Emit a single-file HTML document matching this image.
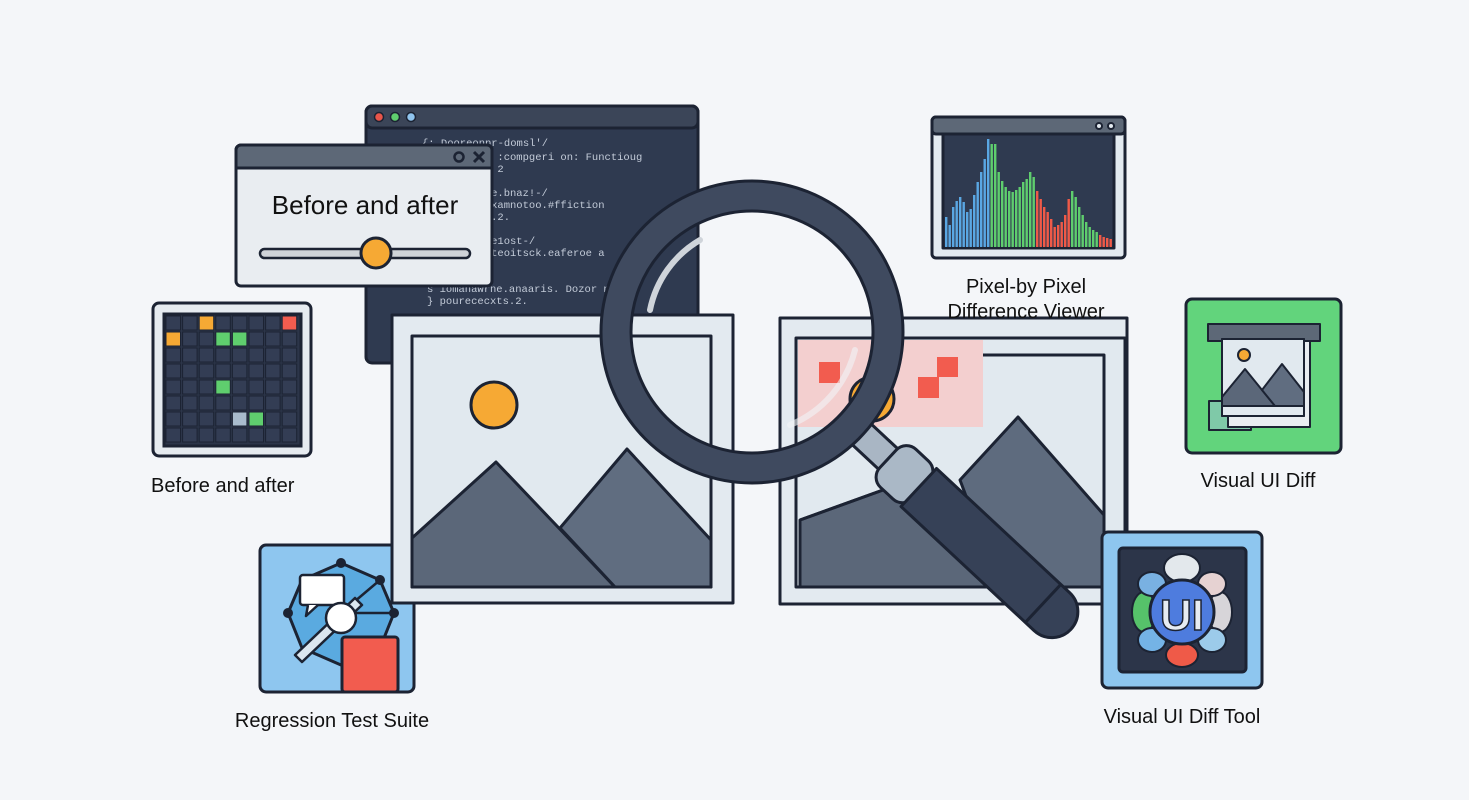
<!DOCTYPE html>
<html><head><meta charset="utf-8"><style>
html,body{margin:0;padding:0;background:#f4f6f9;}
svg{display:block}
text{font-family:"Liberation Sans",sans-serif;}
.code text{font-family:"Liberation Mono",monospace;font-size:10.5px;fill:#c3cbd8;}
</style></head><body>
<svg width="1469" height="800" viewBox="0 0 1469 800" xmlns="http://www.w3.org/2000/svg">
<rect width="1469" height="800" fill="#f4f6f9"/>
<g stroke="#1c2333" stroke-width="3" stroke-linejoin="round">
<rect x="366" y="106" width="332" height="257" rx="6" fill="#2f3a50"/>
<rect x="366" y="106" width="332" height="22" rx="6" fill="#3b4558"/>
<circle cx="379" cy="117" r="4.5" fill="#e8554a" stroke-width="1.5"/>
<circle cx="395" cy="117" r="4.5" fill="#5fce6e" stroke-width="1.5"/>
<circle cx="411" cy="117" r="4.5" fill="#8fc4ee" stroke-width="1.5"/>
</g>
<g class="code">
<text x="422" y="146">{:  Dooreonpr-domsl'/</text>
<text x="447" y="160">ildmage :compgeri on: Functioug</text>
<text x="447" y="172">wrisKao 2</text>
<text x="447" y="196">onner se.bnaz!-/</text>
<text x="447" y="208">elpag.examnotoo.#ffiction</text>
<text x="447" y="220">orerted.2.</text>
<text x="447" y="244">otoe ere1ost-/</text>
<text x="447" y="256">ildmogeteoitsck.eaferoe  a</text>
<text x="447" y="268">wnbaad.</text>
<text x="427" y="292">s  iomanawrne.anaaris. Dozor    n</text>
<text x="427" y="304">}  pourececxts.2.</text>
</g>
<g stroke="#1c2333" stroke-width="3" stroke-linejoin="round">
<rect x="236" y="145" width="256" height="141" rx="5" fill="#e9edf1"/>
<path d="M241 145 H487 a5 5 0 0 1 5 5 V168 H236 V150 a5 5 0 0 1 5 -5z" fill="#5d6877"/>
<circle cx="459" cy="157" r="4.5" fill="none" stroke-width="2.5"/>
<path d="M474 152 L484 162 M484 152 L474 162" stroke-width="3"/>
<rect x="260" y="249" width="210" height="9" rx="4.5" fill="#cfd3d8" stroke-width="2.5"/>
<circle cx="376" cy="253" r="15" fill="#f6a934"/>
</g>
<text x="365" y="214" text-anchor="middle" font-size="26" fill="#111">Before and after</text>
<g stroke="#1c2333" stroke-width="3">
<rect x="153" y="303" width="158" height="153" rx="6" fill="#e6ebf0"/>
<rect x="164" y="314" width="137" height="132" fill="#2c3549"/>
</g>
<g id="grid"></g>
<text x="151" y="492" font-size="20" fill="#111">Before and after</text>
<g stroke="#1c2333" stroke-width="3" stroke-linejoin="round">
<rect x="260" y="545" width="154" height="147" rx="6" fill="#8ec6ef"/>
<polygon points="341,563 380,580 394,613 380,648 341,665 302,648 288,613 302,580" fill="#5aaae0"/>
<circle cx="341" cy="563" r="3.5" fill="#1c2333"/><circle cx="380" cy="580" r="3.5" fill="#1c2333"/>
<circle cx="394" cy="613" r="3.5" fill="#1c2333"/><circle cx="288" cy="613" r="3.5" fill="#1c2333"/>
<path d="M302 580 L341 613 M380 580 L341 613 M341 613 L394 613" stroke-width="2.5"/>
<path d="M295 655 L302 662 L362 605 L355 598z" fill="#dbe6ef" stroke-width="2.5"/>
<rect x="300" y="575" width="44" height="30" rx="3" fill="#fff" stroke-width="2.5"/>
<path d="M308 605 L306 616 L318 605" fill="#fff" stroke-width="2.5"/>
<circle cx="341" cy="618" r="15" fill="#fff" stroke-width="2.5"/>
<rect x="342" y="637" width="56" height="55" rx="3" fill="#f25c4f"/>
</g>
<text x="332" y="727" text-anchor="middle" font-size="20" fill="#111">Regression Test Suite</text>
<g stroke="#1c2333" stroke-width="3" stroke-linejoin="round">
<rect x="392" y="315" width="341" height="288" fill="#e3eaf0"/>
<rect x="412" y="336" width="299" height="251" fill="#e1e9ef"/>
<polygon points="412,538 496,462 615,587 412,587" fill="#5b6779"/>
<polygon points="560,528 627,449 711,540 711,587 615,587" fill="#606d80"/>
<circle cx="494" cy="405" r="23" fill="#f6a934"/>
</g>
<g stroke="#1c2333" stroke-width="3" stroke-linejoin="round">
<rect x="780" y="318" width="347" height="286" fill="#e3eaf0"/>
<rect x="796" y="338" width="329" height="249" fill="#e1e9ef"/>
<rect x="798" y="340" width="185" height="87" fill="#f3cfcf" stroke="none"/>
<path d="M983 355 H1104 V587" fill="none"/>
<polygon points="800,520 883,490 1104,587 800,587" fill="#5b6779"/>
<polygon points="960,480 1018,417 1104,515 1104,587 1000,587" fill="#5e6b7e"/>
<path d="M800 520 L883 490" fill="none"/>
<rect x="819" y="362" width="21" height="21" fill="#f25c4f" stroke="none"/>
<rect x="937" y="357" width="21" height="20" fill="#f25c4f" stroke="none"/>
<rect x="918" y="377" width="21" height="21" fill="#f25c4f" stroke="none"/>
<circle cx="872" cy="399" r="22" fill="#f6a934"/>
</g>
<g stroke="#1c2333" stroke-width="3" stroke-linejoin="round">
<rect x="932" y="117" width="193" height="141" rx="4" fill="#e3eaf0"/>
<rect x="932" y="117" width="193" height="17" rx="4" fill="#5d6877"/>
<circle cx="1099" cy="126" r="3" fill="#e3eaf0" stroke-width="2"/>
<circle cx="1111" cy="126" r="3" fill="#e3eaf0" stroke-width="2"/>
<rect x="943" y="134" width="171" height="114" fill="#2f3a50"/>
</g>
<g id="hist"></g>
<text x="1026" y="293" text-anchor="middle" font-size="20" fill="#111">Pixel-by Pixel</text>
<text x="1026" y="318" text-anchor="middle" font-size="20" fill="#111">Difference Viewer</text>
<g stroke="#1c2333" stroke-width="3" stroke-linejoin="round">
<rect x="1186" y="299" width="155" height="154" rx="6" fill="#62d47c"/>
<rect x="1209" y="401" width="42" height="29" fill="#7fc9a8" stroke-width="2"/>
<rect x="1228" y="341" width="82" height="86" fill="#e9edf1" stroke-width="2"/>
<rect x="1208" y="324" width="112" height="17" fill="#5d6877" stroke-width="2"/>
<rect x="1222" y="339" width="82" height="77" fill="#e1e9ef" stroke-width="2"/>
<polygon points="1222,397 1245,369 1275,406 1222,406" fill="#5b6779" stroke-width="2"/>
<polygon points="1262,390 1282,364 1304,392 1304,406 1275,406" fill="#606d80" stroke-width="2"/>
<rect x="1222" y="339" width="82" height="77" fill="none" stroke-width="2"/>
<circle cx="1244" cy="355" r="6" fill="#f6a934" stroke-width="2"/>
</g>
<text x="1258" y="487" text-anchor="middle" font-size="20" fill="#111">Visual UI Diff</text>
<g stroke="#1c2333" stroke-width="3" stroke-linejoin="round">
<rect x="1102" y="532" width="160" height="156" rx="6" fill="#8ec6ef"/>
<rect x="1119" y="548" width="127" height="124" rx="4" fill="#2c3549"/>
<ellipse cx="1182" cy="568" rx="18" ry="14" fill="#e3e8ec" stroke-width="2"/>
<ellipse cx="1182" cy="655" rx="16" ry="12" fill="#ef5a48" stroke-width="2"/>
<ellipse cx="1144" cy="612" rx="12" ry="20" fill="#56c26a" stroke-width="2"/>
<ellipse cx="1220" cy="612" rx="12" ry="20" fill="#d7d5d9" stroke-width="2"/>
<ellipse cx="1152" cy="584" rx="14" ry="12" fill="#79b1e2" stroke-width="2"/>
<ellipse cx="1212" cy="584" rx="14" ry="12" fill="#e6d2d2" stroke-width="2"/>
<ellipse cx="1152" cy="640" rx="14" ry="12" fill="#74b3e6" stroke-width="2"/>
<ellipse cx="1212" cy="640" rx="14" ry="12" fill="#9ccbea" stroke-width="2"/>
<circle cx="1182" cy="612" r="32" fill="#4e7cde"/>
</g>
<text x="1182" y="630" text-anchor="middle" font-size="44" font-weight="bold" fill="#e6ecf2" stroke="#1c2333" stroke-width="1.5">UI</text>
<text x="1182" y="723" text-anchor="middle" font-size="20" fill="#111">Visual UI Diff Tool</text>
<g stroke="#1c2333" stroke-width="3" stroke-linejoin="round">
<g transform="rotate(43 752 332)">
<rect x="890" y="318" width="55" height="28" fill="#a9b6c4"/>
<rect x="938" y="306" width="45" height="52" rx="14" fill="#aab8c6"/>
<path d="M980 306 H1162 a26 26 0 0 1 0 52 H980z" fill="#364157"/>
<path d="M1150 306 V358" />
</g>
<circle cx="752" cy="332" r="136" fill="none" stroke="#1c2333" stroke-width="33"/>
<circle cx="752" cy="332" r="136" fill="none" stroke="#3f4a5f" stroke-width="27"/>
<path d="M650 310 A105 105 0 0 1 700 240" fill="none" stroke="#cfd4da" stroke-width="6" stroke-linecap="round"/>
<path d="M855 350 A110 110 0 0 1 790 425" fill="none" stroke="#f2f4f6" stroke-opacity="0.6" stroke-width="6" stroke-linecap="round"/>
</g>
</svg>
<script>
(function(){
var ns="http://www.w3.org/2000/svg";
var g=document.getElementById('grid');
var colors={"0,2":"#f6a934","0,7":"#f25c4f","1,0":"#f6a934","1,3":"#5fce6e","1,4":"#5fce6e","4,3":"#5fce6e","6,4":"#a9bccd","6,5":"#5fce6e"};
for(var r=0;r<8;r++)for(var c=0;c<8;c++){var e=document.createElementNS(ns,'rect');
e.setAttribute('x',166+c*16.6);e.setAttribute('y',316+r*16);e.setAttribute('width',14.5);e.setAttribute('height',14);
e.setAttribute('fill',colors[r+","+c]||"#333d54");e.setAttribute('stroke','#1c2333');e.setAttribute('stroke-width','1');g.appendChild(e);}
var h=document.getElementById('hist');
var vals=[30,22,40,46,50,45,35,38,52,65,75,88,108,103,103,75,66,60,56,55,57,60,65,68,75,70,56,48,40,35,28,20,22,25,32,48,56,50,40,32,25,20,17,15,12,10,9,8];
for(var i=0;i<vals.length;i++){var e=document.createElementNS(ns,'rect');var hh=vals[i];
e.setAttribute('x',945+i*3.5);e.setAttribute('y',247-hh);e.setAttribute('width',2.4);e.setAttribute('height',hh);
var col=i<13?"#5aa7e3":(i<26?"#5fce6e":(i<36?"#ef5a48":(i<44?"#5fce6e":"#ef5a48")));
e.setAttribute('fill',col);h.appendChild(e);}
})();
</script>
</body></html>
